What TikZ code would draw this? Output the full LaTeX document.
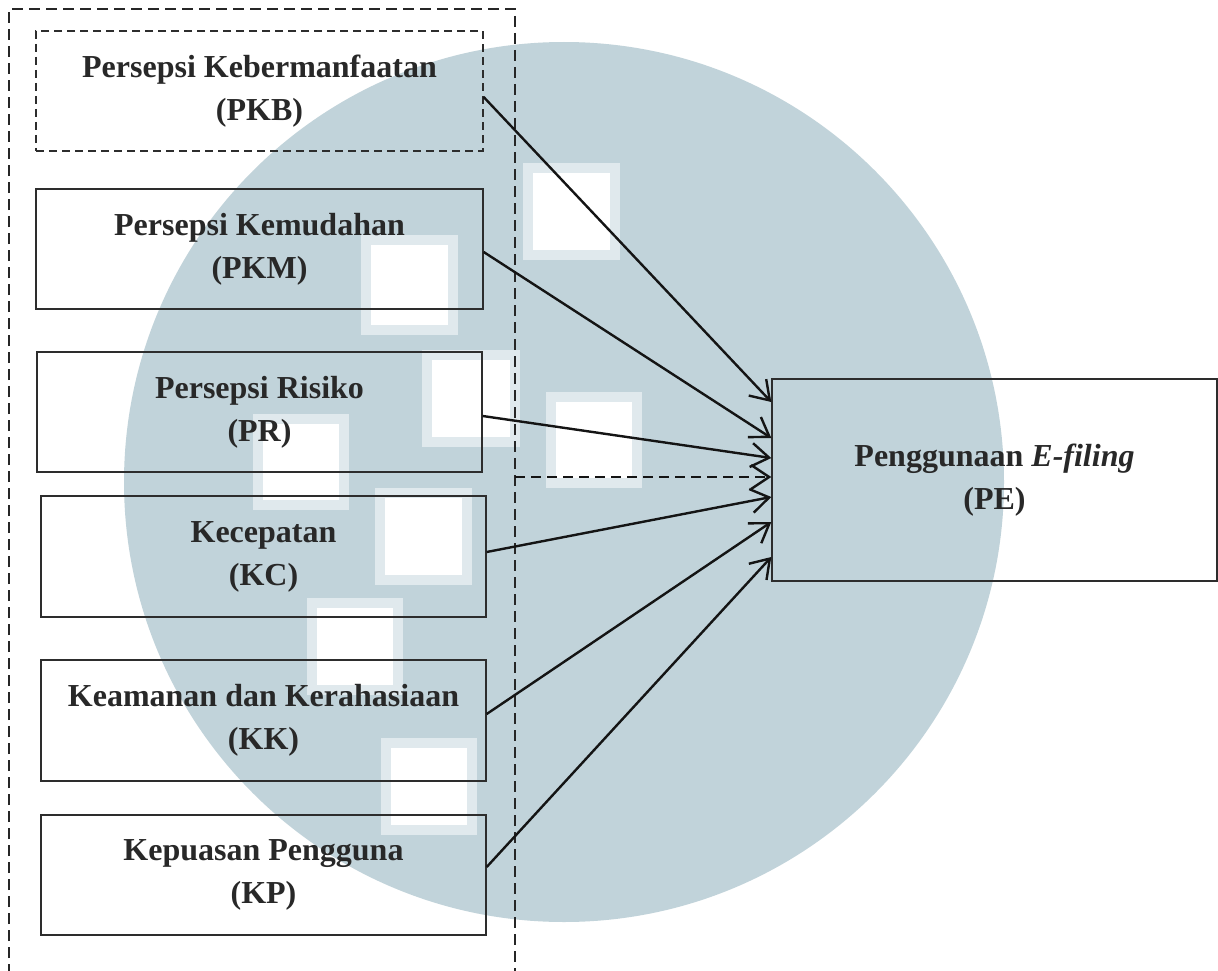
\documentclass[tikz,border=0pt]{standalone}
\usepackage{fontspec}
\setmainfont{Liberation Serif}
\usetikzlibrary{arrows.meta}
\definecolor{wmblue}{RGB}{193,211,218}
\definecolor{wmhalo}{RGB}{224,233,237}
\definecolor{txt}{RGB}{40,40,40}
\definecolor{ln}{RGB}{45,45,45}
\tikzset{
  box/.style={draw=ln, line width=1.4pt, inner sep=0pt, text=txt, align=center,
    font=\fontsize{32}{43}\selectfont\bfseries},
  arr/.style={draw=black!92, line width=2.4pt, -{Straight Barb[length=18pt,width=24pt,line width=2.4pt]}},
  frame/.style={draw=black!85, line width=2.5pt, dash pattern=on 11pt off 6pt},
}
\begin{document}
\begin{tikzpicture}[x=1pt,y=-1pt]
\useasboundingbox (0,0) rectangle (1218,971);
\fill[white] (0,0) rectangle (1218,971);
% watermark
\fill[wmblue] (564,482) circle[radius=440pt];
\foreach \a/\b/\c/\d in {533/173/610/250, 371/245/448/325, 432/360/510/437, 556/402/632/478,
  263/424/339/500, 385/498/462/575, 317/608/393/685, 391/748/467/825}{
  \fill[wmhalo] (\a-10,\b-10) rectangle (\c+10,\d+10);
  \fill[white] (\a,\b) rectangle (\c,\d);
}
% outer dashed frame
\draw[frame] (9,975) -- (9,9) -- (515,9) -- (515,975);
% boxes
\node[box, minimum width=447pt, minimum height=120pt, line width=1.3pt, dash pattern=on 8pt off 5pt] (pkb) at (259.5,91) {Persepsi Kebermanfaatan\\(PKB)};
\node[box, minimum width=447pt, minimum height=120pt] (pkm) at (259.5,249) {Persepsi Kemudahan\\(PKM)};
\node[box, minimum width=445pt, minimum height=120pt] (pr) at (259.5,412) {Persepsi Risiko\\(PR)};
\node[box, minimum width=445pt, minimum height=121pt] (kc) at (263.5,556.5) {Kecepatan\\(KC)};
\node[box, minimum width=445pt, minimum height=121pt] (kk) at (263.5,720.5) {Keamanan dan Kerahasiaan\\(KK)};
\node[box, minimum width=445pt, minimum height=120pt] (kp) at (263.5,875) {Kepuasan Pengguna\\(KP)};
\node[box, minimum width=445pt, minimum height=202pt] (pe) at (994.5,480) {Penggunaan \textit{E-filing}\\(PE)};
% connectors
\coordinate (ds) at (515,477);
\draw[arr] ([yshift=-6pt]pkb.east) -- ([yshift=78pt]pe.west);
\draw[arr] ([yshift=-3pt]pkm.east) -- ([yshift=42pt]pe.west);
\draw[arr] ([yshift=-4pt]pr.east) -- ([yshift=22pt]pe.west);
\draw[arr, dash pattern=on 10pt off 6pt] (ds) -- ([yshift=3pt]pe.west);
\draw[arr] ([yshift=4.5pt]kc.east) -- ([yshift=-17pt]pe.west);
\draw[arr] ([yshift=6.5pt]kk.east) -- ([yshift=-42pt]pe.west);
\draw[arr] ([yshift=8pt]kp.east) -- ([yshift=-77pt]pe.west);
\end{tikzpicture}
\end{document}
